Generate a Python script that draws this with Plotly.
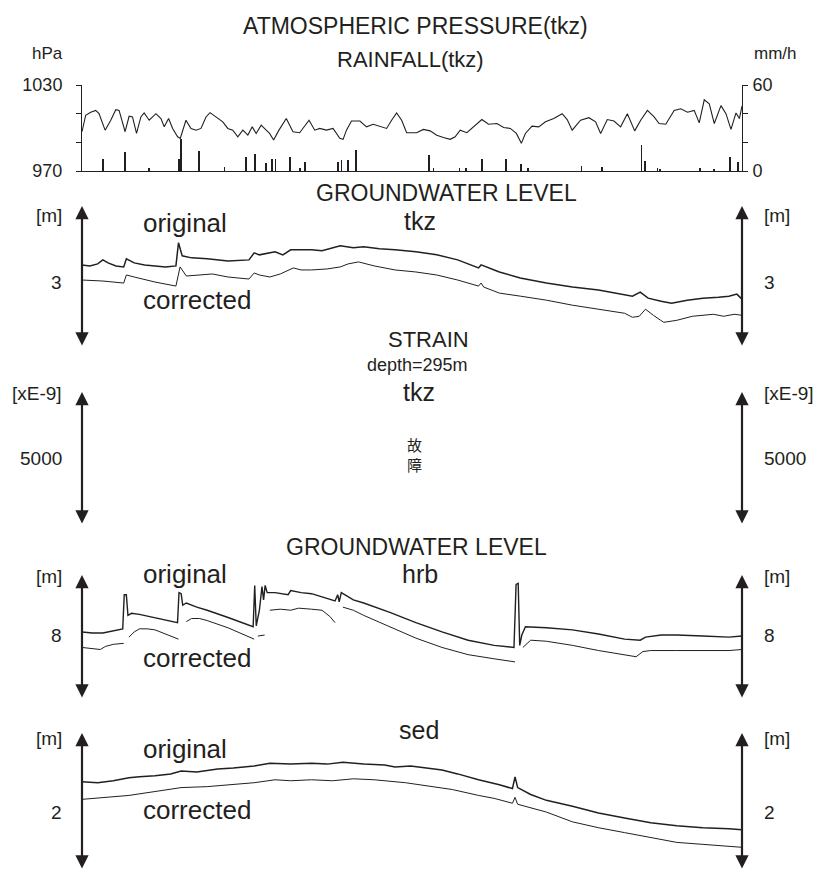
import plotly.graph_objects as go

# ---------------- data ----------------
# time axis: days (0..100) across the record
p_day = [0, 0.56, 1.32, 2.08, 2.58, 3.5, 4.36, 5.12, 5.62, 6.53, 7.14, 7.65, 8.26, 8.92, 9.42, 10.18, 11.2, 11.96, 12.46, 13.12,
         13.73, 14.49, 14.89, 15.75, 16.51, 17.27, 18.03, 18.79, 19.4, 20.31, 21.33, 22.09, 22.85, 23.61, 24.37, 25.13, 25.79, 26.39, 27.15, 27.91,
         28.42, 29.03, 29.84, 30.95, 31.97, 32.98, 34.4, 35.26, 36.02, 37.03, 38.04, 39.06, 39.56, 40.07, 40.83, 42.1, 43.11, 44.12, 45.14, 46.15,
         46.91, 47.67, 48.43, 49.19, 50.7, 51.72, 52.74, 53.75, 54.77, 55.78, 56.54, 57.3, 58.31, 59.33, 60.59, 61.6, 62.87, 63.88, 64.9, 65.81,
         66.57, 67.18, 68.19, 69.2, 70.22, 71.48, 72.75, 73.51, 74.27, 75.54, 76.8, 77.82, 78.58, 79.59, 80.6, 81.61, 82.63, 83.74, 84.65, 85.67,
         86.68, 87.44, 88.45, 89.72, 90.73, 91.75, 92.76, 93.52, 94.28, 95.04, 95.8, 96.81, 97.57, 98.33, 99.09, 99.6, 100]
p_hpa = [997.4, 1008.9, 1011.0, 1012.3, 1010.0, 998.5, 1005.4, 1012.8, 1012.3, 997.4, 1008.2, 1007.7, 996.2, 1007.7, 1010.5, 1005.4, 1010.0, 1006.6, 1000.8, 1006.6,
         999.7, 993.9, 992.8, 1005.4, 999.7, 998.5, 999.7, 1007.7, 1010.7, 1007.7, 1004.3, 999.7, 998.5, 993.9, 998.5, 995.1, 1000.8, 996.2, 1002.0, 998.5,
         996.2, 991.6, 998.5, 1006.6, 997.4, 996.7, 1005.4, 998.5, 999.7, 998.5, 999.7, 992.8, 992.1, 998.5, 1004.9, 1004.9, 1000.8, 1002.6, 1001.3, 999.7,
         1005.4, 1010.5, 1005.4, 996.7, 996.7, 999.0, 998.0, 995.0, 993.4, 992.1, 993.9, 998.5, 996.7, 1000.8, 1005.9, 1002.6, 1003.1, 1000.3, 999.7, 996.2,
         989.3, 996.2, 1001.3, 1000.8, 1004.3, 1006.6, 1010.0, 1005.9, 998.5, 1005.4, 1007.2, 1004.3, 996.2, 1005.9, 1004.9, 1000.8, 1010.0, 998.0, 1005.4, 1012.3,
         1007.7, 1003.1, 1002.6, 1012.3, 1013.4, 1011.0, 1012.3, 1003.6, 1019.7, 1016.9, 1003.1, 1015.6, 1010.0, 999.0, 1010.5, 1006.6, 1015.3]

r_day = [3.19, 6.53, 10.18, 14.74, 15.0, 17.78, 21.58, 24.87, 26.24, 27.91, 28.77, 29.33, 31.56, 32.98, 33.74, 38.8, 39.31, 40.32, 41.49,
         52.59, 53.25, 57.2, 58.21, 60.59, 64.24, 66.57, 67.53, 75.69, 78.73, 84.76, 85.26, 87.19, 87.59, 93.67, 95.7, 98.23, 99.34]
r_mm = [8.1, 13.2, 2.0, 8.6, 22.0, 13.9, 2.8, 9.7, 11.6, 5.6, 8.1, 8.1, 9.7, 2.3, 6.3, 6.3, 7.4, 7.4, 15.0,
        10.9, 2.3, 2.3, 2.3, 8.6, 8.1, 4.6, 2.3, 3.2, 2.8, 17.8, 6.9, 2.3, 1.5, 2.3, 1.6, 9.7, 6.3]

tkz_orig_day = [0, 1.19, 2.37, 3.16, 3.95, 5.14, 6.32, 6.72, 7.91, 9.49, 11.07, 12.65, 14.23, 14.62, 15.18, 16.6, 18.97, 22.13, 25.3, 26.09,
                26.88, 27.67, 29.25, 30.43, 31.62, 34.78, 36.36, 39.13, 41.11, 42.69, 45.06, 47.43, 50.59, 53.75, 56.92, 60.08, 60.47, 63.24, 66.4, 70.36,
                74.31, 78.26, 82.21, 83.4, 84.58, 85.77, 87.75, 89.33, 91.7, 94.07, 96.44, 98.02, 99.21, 100]
tkz_orig = [3.17, 3.16, 3.18, 3.22, 3.19, 3.16, 3.15, 3.23, 3.19, 3.17, 3.16, 3.15, 3.16, 3.39, 3.26, 3.24, 3.23, 3.21, 3.22, 3.29,
            3.27, 3.28, 3.30, 3.27, 3.32, 3.32, 3.31, 3.36, 3.34, 3.35, 3.33, 3.32, 3.30, 3.27, 3.22, 3.14, 3.17, 3.10, 3.04, 2.99,
            2.95, 2.92, 2.87, 2.86, 2.90, 2.84, 2.81, 2.79, 2.82, 2.84, 2.85, 2.86, 2.88, 2.83]
tkz_corr_day = [0, 3.16, 6.32, 6.72, 7.91, 11.07, 14.23, 14.86, 15.81, 17.39, 19.76, 22.13, 25.3, 26.09, 26.88, 28.46, 30.04, 32.02, 33.2, 34.78,
                37.15, 39.13, 40.32, 41.9, 44.27, 47.43, 50.59, 53.75, 56.92, 60.08, 60.47, 60.87, 63.24, 66.4, 70.36, 74.31, 78.26, 82.21, 83.4, 84.43,
                85.38, 86.56, 88.14, 90.12, 92.49, 94.07, 95.65, 97.23, 98.81, 100]
tkz_corr = [3.02, 3.01, 2.99, 3.07, 3.05, 3.00, 2.96, 3.15, 3.06, 3.07, 3.08, 3.05, 3.03, 3.09, 3.07, 3.05, 3.08, 3.14, 3.12, 3.12,
            3.13, 3.15, 3.18, 3.20, 3.16, 3.12, 3.10, 3.07, 3.02, 2.96, 2.99, 2.95, 2.89, 2.86, 2.82, 2.77, 2.73, 2.69, 2.65, 2.66,
            2.73, 2.67, 2.60, 2.62, 2.66, 2.67, 2.68, 2.66, 2.68, 2.67]

hrb_orig_day = [0, 1.58, 3.16, 4.74, 6.17, 6.4, 6.72, 6.96, 7.51, 8.7, 11.07, 13.44, 14.47, 14.7, 15.02, 15.26, 15.81, 17.39, 18.97, 22.13,
                25.93, 26.17, 26.4, 26.88, 27.27, 27.51, 27.75, 28.06, 29.25, 31.23, 31.62, 33.2, 34.78, 36.36, 37.94, 38.34, 38.74, 38.97, 39.29, 41.11,
                42.69, 46.64, 50.59, 54.55, 58.5, 62.45, 65.45, 65.77, 66.09, 66.32, 66.64, 67.19, 70.36, 74.31, 78.26, 82.21, 84.58, 85.38, 87.75, 90.12,
                94.07, 98.02, 100]
hrb_orig = [8.03, 8.02, 8.02, 8.04, 8.06, 8.39, 8.39, 8.19, 8.21, 8.20, 8.17, 8.14, 8.12, 8.41, 8.40, 8.29, 8.31, 8.27, 8.24, 8.17,
            8.08, 8.48, 8.09, 8.24, 8.47, 8.34, 8.48, 8.41, 8.41, 8.39, 8.43, 8.41, 8.40, 8.37, 8.34, 8.33, 8.39, 8.32, 8.41, 8.34,
            8.31, 8.22, 8.12, 8.03, 7.95, 7.90, 7.88, 8.49, 8.50, 7.90, 8.00, 8.08, 8.07, 8.05, 8.01, 7.96, 7.95, 7.98, 8.00, 8.00,
            7.99, 7.98, 7.99]
hrb_corr_day = [0, 1.58, 2.77, 3.56, 4.74, 6.32, None, 7.11, 7.91, 8.7, 9.88, 11.07, 12.65, 14.62, None, 15.81, 16.6, 17.79, 18.97, 22.13, 26.09,
                None, 26.64, 27.67, None, 28.46, 30.04, 31.62, 32.81, 34.78, 36.36, 37.55, 38.34, None, 39.53, 41.11, 42.69, 46.64, 50.59, 54.55,
                58.5, 62.45, 65.61, None, 66.8, 67.98, 70.36, 74.31, 78.26, 82.21, 83.95, 84.98, 86.17, 90.12, 94.07, 98.02, 100]
hrb_corr = [7.88, 7.87, 7.86, 7.89, 7.91, 7.92, None, 7.98, 8.03, 8.06, 8.06, 8.05, 8.01, 7.96, None, 8.13, 8.16, 8.16, 8.14, 8.07, 7.96,
            None, 7.99, 8.00, None, 8.24, 8.25, 8.24, 8.26, 8.25, 8.24, 8.18, 8.12, None, 8.27, 8.24, 8.19, 8.08, 7.97, 7.88,
            7.81, 7.77, 7.74, None, 7.88, 7.95, 7.94, 7.90, 7.85, 7.81, 7.79, 7.84, 7.85, 7.85, 7.85, 7.85, 7.86]

sed_orig_day = [0, 2.37, 4.74, 7.11, 8.7, 11.07, 13.44, 15.02, 17.39, 20.55, 22.92, 26.09, 28.46, 31.62, 34.78, 37.15, 39.53, 42.69, 45.85, 47.43,
                49.8, 52.17, 54.55, 56.92, 60.08, 63.24, 65.22, 65.61, 66.01, 67.98, 70.36, 74.31, 78.26, 82.21, 86.17, 90.12, 94.07, 98.02, 100]
sed_orig = [2.31, 2.30, 2.32, 2.35, 2.36, 2.37, 2.39, 2.42, 2.41, 2.44, 2.45, 2.47, 2.50, 2.49, 2.50, 2.49, 2.51, 2.49, 2.48, 2.46,
            2.47, 2.45, 2.43, 2.39, 2.33, 2.28, 2.24, 2.36, 2.25, 2.18, 2.12, 2.06, 1.99, 1.94, 1.89, 1.86, 1.84, 1.83, 1.82]
sed_corr_day = [0, 3.16, 7.11, 11.07, 15.02, 18.97, 22.92, 26.09, 29.25, 31.62, 34.78, 37.94, 41.11, 44.27, 49.01, 52.17, 56.13, 60.08, 62.45, 65.22,
                65.61, 66.01, 70.36, 74.31, 78.26, 82.21, 86.17, 90.12, 94.07, 98.02, 100]
sed_corr = [2.13, 2.15, 2.17, 2.21, 2.25, 2.26, 2.28, 2.30, 2.33, 2.32, 2.33, 2.32, 2.34, 2.33, 2.30, 2.27, 2.23, 2.17, 2.14, 2.09,
            2.15, 2.08, 2.00, 1.90, 1.84, 1.79, 1.74, 1.69, 1.67, 1.65, 1.64]

# axis ranges / ticks
p_range = [970, 1030]
p_ticks = [970, 990, 1010, 1030]
p_ticktext = ["970", "", "", "1030"]
r_range = [0, 60]
r_ticks = [0, 20, 40, 60]
r_ticktext = ["0", "", "", "60"]
tkz_range = [2.355, 3.755]
strain_range = [0, 10000]
hrb_range = [7.381, 8.581]
sed_range = [1.408, 2.808]

# ---------------- style ----------------
INK = "#231f20"
FONT = "Liberation Sans, Arial, sans-serif"
CJK = "Noto Sans CJK JP, Noto Sans CJK SC, sans-serif"
W, H = 818, 873
ML, MR = 82, 76
PW = W - ML - MR

def px(xp):
    return (xp - ML) / PW

def py(yp):
    return 1 - yp / H

def dom(top, bot):
    return [1 - bot / H, 1 - top / H]

fig = go.Figure()

fig.add_trace(go.Bar(x=r_day, y=r_mm, width=0.12, marker=dict(color=INK, line=dict(width=0)),
                     yaxis="y2", xaxis="x", showlegend=False))
fig.add_trace(go.Scatter(x=p_day, y=p_hpa, mode="lines", line=dict(color=INK, width=1.1),
                         yaxis="y", xaxis="x", showlegend=False))

for xs, ys, ax, wd in [
    (tkz_orig_day, tkz_orig, "y3", 1.5), (tkz_corr_day, tkz_corr, "y3", 1.0),
    (hrb_orig_day, hrb_orig, "y5", 1.4), (hrb_corr_day, hrb_corr, "y5", 1.0),
    (sed_orig_day, sed_orig, "y6", 1.5), (sed_corr_day, sed_corr, "y6", 1.0),
]:
    fig.add_trace(go.Scatter(x=xs, y=ys, mode="lines", line=dict(color=INK, width=wd),
                             yaxis=ax, xaxis="x", showlegend=False, connectgaps=False))

hidden = dict(showline=False, showgrid=False, zeroline=False, showticklabels=False, ticks="",
              anchor="x", automargin=False)

fig.update_layout(
    template="none",
    width=W, height=H,
    margin=dict(l=ML, r=MR, t=0, b=0, pad=0, autoexpand=False),
    paper_bgcolor="white", plot_bgcolor="rgba(0,0,0,0)",
    showlegend=False, bargap=0,
    xaxis=dict(range=[0, 100], domain=[0, 1], anchor="y", showline=True, linecolor=INK, linewidth=1,
               showgrid=False, zeroline=False, showticklabels=False, ticks="", automargin=False),
    yaxis=dict(domain=dom(85, 171), range=p_range, tickvals=p_ticks, ticktext=p_ticktext,
               ticks="outside", ticklen=5, tickwidth=1, tickcolor=INK, showline=True, linecolor=INK, linewidth=1,
               showgrid=False, zeroline=False, tickfont=dict(family=FONT, size=18, color=INK),
               ticklabelstandoff=10, anchor="x", automargin=False),
    yaxis2=dict(overlaying="y", side="right", range=r_range, tickvals=r_ticks, ticktext=r_ticktext,
                ticks="outside", ticklen=5, tickwidth=1, tickcolor=INK, showline=True, linecolor=INK, linewidth=1,
                showgrid=False, zeroline=False, tickfont=dict(family=FONT, size=18, color=INK),
                ticklabelstandoff=1, anchor="x", automargin=False),
    yaxis3=dict(domain=dom(206, 347), range=tkz_range, **hidden),
    yaxis4=dict(domain=dom(392, 525), range=strain_range, **hidden),
    yaxis5=dict(domain=dom(575, 699), range=hrb_range, **hidden),
    yaxis6=dict(domain=dom(733, 870), range=sed_range, **hidden),
)

ann = []

def text(t, xp, yp, size, xanchor="center", fam=FONT):
    ann.append(dict(text=t, x=px(xp), y=py(yp), xref="paper", yref="paper", showarrow=False,
                    xanchor=xanchor, yanchor="middle", font=dict(family=fam, size=size, color=INK)))

text("ATMOSPHERIC PRESSURE(tkz)", 415, 26, 23)
text("RAINFALL(tkz)", 410, 60, 22)
text("hPa", 47, 53, 17)
text("mm/h", 775, 53, 17)

text("GROUNDWATER LEVEL", 446, 193, 23)
text("tkz", 420, 221, 25)
text("original", 141, 223, 26, "left")
text("corrected", 141, 300, 26, "left")

text("STRAIN", 428, 340, 22)
text("depth=295m", 418, 365, 18)
text("tkz", 419, 392, 25)
text("故", 414, 444, 15, fam=CJK)
text("障", 414, 464, 15, fam=CJK)

text("GROUNDWATER LEVEL", 416, 547, 23)
text("hrb", 420, 574, 25)
text("original", 141, 574, 26, "left")
text("corrected", 141, 658, 26, "left")

text("sed", 419, 730, 25)
text("original", 141, 749, 26, "left")
text("corrected", 141, 810, 26, "left")

# unit labels & value labels on both sides of each arrow axis
panels = [
    ("y3", "[m]", 215, 3.0, "3", 206, 347),
    ("y4", "[xE-9]", 394, 5000, "5000", 392, 525),
    ("y5", "[m]", 576, 8.0, "8", 575, 699),
    ("y6", "[m]", 738, 2.0, "2", 733, 870),
]
for yax, unit, uy, val, vlab, top, bot in panels:
    for side in ("left", "right"):
        xa = px(64) if side == "left" else px(762)
        anc = "right" if side == "left" else "left"
        ann.append(dict(text=unit, x=xa, y=py(uy), xref="paper", yref="paper", showarrow=False,
                        xanchor=anc, yanchor="middle", font=dict(family=FONT, size=19, color=INK)))
        ann.append(dict(text=vlab, x=xa, y=val, xref="paper", yref=yax, showarrow=False,
                        xanchor=anc, yanchor="middle", font=dict(family=FONT, size=19, color=INK)))
        # double-headed arrow as the axis line
        ann.append(dict(text="", x=0 if side == "left" else 1, y=1, xref="x domain", yref=yax + " domain",
                        ax=0, ay=bot - top, axref="pixel", ayref="pixel", showarrow=True,
                        arrowhead=2, startarrowhead=2, arrowside="end+start", arrowwidth=2.2,
                        arrowsize=1.2, startarrowsize=1.2, arrowcolor=INK, standoff=0, startstandoff=0))

fig.update_layout(annotations=ann)

fig.write_html("out.html", config={"displayModeBar": False},
               post_script="document.body.style.margin='0';")
